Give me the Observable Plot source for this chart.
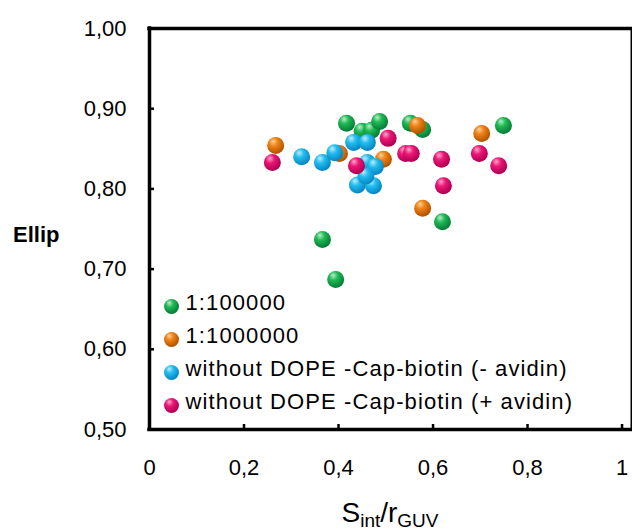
<!DOCTYPE html>
<html><head><meta charset="utf-8">
<script src="https://cdn.jsdelivr.net/npm/d3@7"></script>
<script src="https://cdn.jsdelivr.net/npm/@observablehq/plot@0.6"></script>
<style>
body{margin:0;background:#fff;}
</style>
</head><body><div id="chart"></div>
<script>
// Series names
const seriesNames = ["1:100000", "1:1000000", "without DOPE -Cap-biotin (- avidin)", "without DOPE -Cap-biotin (+ avidin)"];
// 1:100000 (green)
const green_x = [0.417, 0.45, 0.47, 0.487, 0.552, 0.578, 0.749, 0.62, 0.366, 0.394];
const green_y = [0.882, 0.872, 0.873, 0.884, 0.882, 0.874, 0.879, 0.759, 0.737, 0.687];
// 1:1000000 (orange)
const orange_x = [0.267, 0.402, 0.495, 0.567, 0.578, 0.703];
const orange_y = [0.854, 0.844, 0.837, 0.879, 0.776, 0.869];
// without DOPE-Cap-biotin (- avidin) (blue)
const blue_x = [0.322, 0.366, 0.392, 0.432, 0.461, 0.461, 0.478, 0.44, 0.474, 0.458];
const blue_y = [0.840, 0.833, 0.845, 0.858, 0.858, 0.833, 0.828, 0.805, 0.804, 0.816];
// without DOPE-Cap-biotin (+ avidin) (pink)
const pink_x = [0.26, 0.438, 0.505, 0.542, 0.554, 0.618, 0.698, 0.739, 0.622];
const pink_y = [0.833, 0.829, 0.863, 0.844, 0.844, 0.837, 0.844, 0.829, 0.804];
// Tick values
const xTicks = [0, 0.2, 0.4, 0.6, 0.8, 1];
const yTicks = [0.5, 0.6, 0.7, 0.8, 0.9, 1.0];

const palettes = [
  {id: "g0", hi: "#b8f0c8", mid: "#20b955", dark: "#067a36"},
  {id: "g1", hi: "#ffd09a", mid: "#ee8216", dark: "#ad5200"},
  {id: "g2", hi: "#c0eeff", mid: "#22bdf0", dark: "#0784c0"},
  {id: "g3", hi: "#ffa8cc", mid: "#ec1776", dark: "#ab0050"}
];

const xs = [green_x, orange_x, blue_x, pink_x];
const ys = [green_y, orange_y, blue_y, pink_y];
const series = xs.map((xa, i) => xa.map((x, j) => ({x, y: ys[i][j]})));

const fmtX = d => d === 0 ? "0" : d === 1 ? "1" : String(d).replace(".", ",");
const fmtY = d => d.toFixed(2).replace(".", ",");

const marks = [
  Plot.frame({stroke: "black", strokeWidth: 2}),
  Plot.ruleX([0], {stroke: "black", strokeWidth: 3.5, strokeLinecap: "square"}),
  Plot.ruleY([0.5, 1], {stroke: "black", strokeWidth: 3.5, strokeLinecap: "square"}),
  Plot.axisX({ticks: xTicks, tickFormat: fmtX, tickSize: -5, tickPadding: 35, strokeWidth: 2.5, fontSize: 22, label: null}),
  Plot.axisY({ticks: yTicks, tickFormat: fmtY, tickSize: -5, tickPadding: 28, strokeWidth: 2.5, fontSize: 22, label: null})
];
series.forEach((data, i) => {
  marks.push(Plot.dot(data, {x: "x", y: "y", r: 8.5, fill: `url(#${palettes[i].id})`, stroke: null, ariaLabel: "ball"}));
});
seriesNames.forEach((name, i) => {
  marks.push(Plot.dot([name], {frameAnchor: "bottom-left", dx: 22, dy: -123 + 33 * i, r: 7.5, fill: `url(#${palettes[i].id})`, stroke: null, ariaLabel: "ball"}));
  marks.push(Plot.text([name], {text: d => d, frameAnchor: "bottom-left", dx: 36, dy: -120 + 33 * i, textAnchor: "start", fontSize: 22, fill: "black"}));
});

const svg = Plot.plot({
  width: 632, height: 530,
  marginLeft: 149, marginRight: 1, marginTop: 28, marginBottom: 101,
  style: {fontFamily: "'Liberation Sans', Arial, sans-serif", fontSize: "22px", background: "#fff", color: "black"},
  x: {domain: [0, 1.02]},
  y: {domain: [0.5, 1]},
  marks
});

// Gradients and shadow
const s = d3.select(svg);
const defs = s.insert("defs", ":first-child");
palettes.forEach(p => {
  const g = defs.append("radialGradient").attr("id", p.id).attr("cx", "40%").attr("cy", "35%").attr("r", "65%").attr("fx", "35%").attr("fy", "25%");
  g.append("stop").attr("offset", "0%").attr("stop-color", p.hi);
  g.append("stop").attr("offset", "40%").attr("stop-color", p.mid);
  g.append("stop").attr("offset", "100%").attr("stop-color", p.dark);
});
const f = defs.append("filter").attr("id", "shadow").attr("x", "-50%").attr("y", "-50%").attr("width", "220%").attr("height", "220%");
f.append("feDropShadow").attr("dx", 2).attr("dy", 4).attr("stdDeviation", 2).attr("flood-color", "#000").attr("flood-opacity", 0.35);
s.selectAll('g[aria-label="ball"] circle').attr("filter", "url(#shadow)");

// Legend text spacing
s.selectAll("text").filter(function() { return seriesNames.includes(this.textContent); })
  .attr("letter-spacing", "1.1px");

// Axis titles
s.append("text").attr("x", 13).attr("y", 236).attr("dominant-baseline", "middle").attr("text-anchor", "start")
  .attr("font-weight", "bold").attr("font-size", 22).attr("fill", "black").text("Ellip");
const t = s.append("text").attr("x", 390).attr("y", 522).attr("text-anchor", "middle").attr("fill", "black").attr("font-size", 28);
t.append("tspan").text("S");
t.append("tspan").attr("font-size", 19).attr("dy", 5).text("int");
t.append("tspan").attr("dy", -5).text("/r");
t.append("tspan").attr("font-size", 19).attr("dy", 5).text("GUV");

document.getElementById("chart").appendChild(svg);
</script>
</body></html>
